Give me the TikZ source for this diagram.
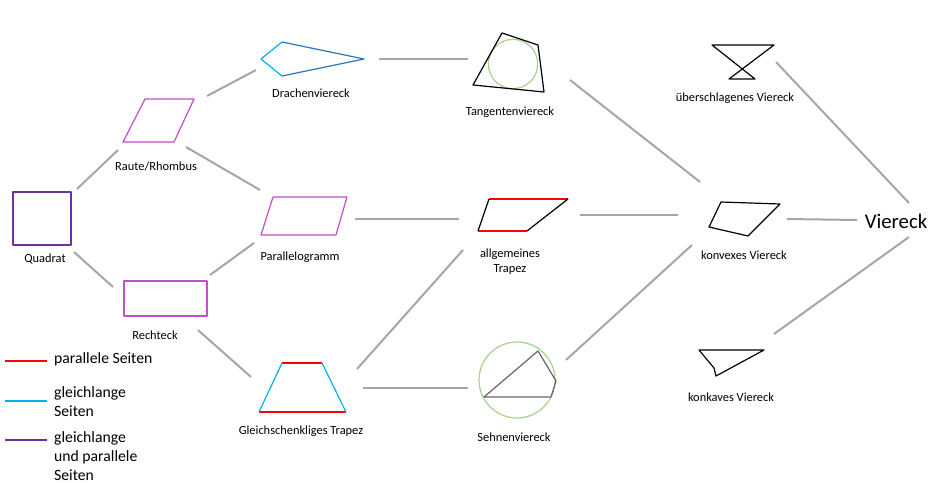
\documentclass[tikz,border=0pt]{standalone}
\usepackage{fontspec}
\setmainfont{Carlito}
\definecolor{conngray}{HTML}{A6A6A6}
\definecolor{lila}{HTML}{7030A0}
\definecolor{pinklila}{HTML}{C04FC8}
\definecolor{hellblau}{HTML}{00B0F0}
\definecolor{dunkelblau}{HTML}{2E75B6}
\definecolor{hellgruen}{HTML}{A9D18E}
\definecolor{rot}{HTML}{FF0000}
\begin{document}
\begin{tikzpicture}[x=1pt,y=-1pt,
  conn/.style={conngray,line width=2pt},
  fig/.style={line width=1.2pt,line join=round},
  lbl/.style={font=\fontsize{12.4}{15}\selectfont,inner sep=0pt,align=center},
  leg/.style={font=\fontsize{15.7}{19}\selectfont,inner sep=0pt,align=left,anchor=west}]
\useasboundingbox (0,0) rectangle (939,484);

% Quadrat, Raute, Rechteck
\draw [fig, lila] (13,192) rectangle (71,245);
\node [lbl] (quadrat) at (45,259) {Quadrat};
\draw [fig, pinklila] (145,99) -- (194,99) -- (174,142) -- (123,142) -- cycle;
\node [lbl] (raute) at (156,166) {Raute/Rhombus};
\draw [fig, pinklila] (124,281) rectangle (207,316);
\node [lbl] (rechteck) at (155,335) {Rechteck};

% Drachen, Parallelogramm, Gleichschenkliges Trapez
\draw [fig, hellblau] (282,76) -- (261,59) -- (282,42);
\draw [fig, dunkelblau] (282,42) -- (364,59) -- (282,76);
\node [lbl] (drachen) at (311,93) {Drachenviereck};
\draw [fig, pinklila] (273,197) -- (347,197) -- (336,235) -- (261,235) -- cycle;
\node [lbl] (parallelo) at (300,257) {Parallelogramm};
\draw [fig, rot] (282,363) -- (322,363) (259,412) -- (346,412);
\draw [fig, hellblau] (282,363) -- (259,412) (322,363) -- (346,412);
\node [lbl] (gltrapez) at (301,431) {Gleichschenkliges Trapez};

% Tangenten, allgemeines Trapez, Sehnen
\draw [fig, hellgruen] (513,64) circle (24.7);
\draw [fig, black] (502,33) -- (538,45) -- (544,92) -- (473,85) -- cycle;
\node [lbl] (tangenten) at (510,112) {Tangentenviereck};
\draw [fig, rot] (489,199) -- (568,199) (527,231) -- (478,231);
\draw [fig, black] (568,199) -- (527,231) (478,231) -- (489,199);
\node [lbl] (allgtrapez) at (510,262) {allgemeines\\Trapez};
\draw [fig, hellgruen] (517,380) circle (38);
\draw [fig, black!60] (484,397) -- (538,351) -- (556,381) -- (551,397) -- cycle;
\node [lbl] (sehnen) at (514,437) {Sehnenviereck};

% rechte Spalte
\draw [fig, black] (712,45) -- (774,45) -- (729,79) -- (755,79) -- cycle;
\node [lbl] (ueber) at (735,98) {überschlagenes Viereck};
\draw [fig, black] (721,202) -- (780,204) -- (748,236) -- (709,227) -- cycle;
\node [lbl] (konvex) at (744,255) {konvexes Viereck};
\draw [fig, black] (699,350) -- (764,350) -- (716,376) -- (714,368) -- cycle;
\node [lbl] (konkav) at (731,397) {konkaves Viereck};
\node [inner sep=0pt, font=\fontsize{20.8}{24}\selectfont] (viereck) at (896,221) {Viereck};

% Verbindungen
\coordinate (q-r1) at (77,189);   \coordinate (r-q1) at (118,150);
\coordinate (q-re1) at (74,252);  \coordinate (re-q1) at (113,287);
\coordinate (r-d1) at (207,96);   \coordinate (d-r1) at (256,70);
\coordinate (r-p1) at (186,147);  \coordinate (p-r1) at (260,190);
\coordinate (re-p1) at (210,275); \coordinate (p-re1) at (254,243);
\coordinate (re-g1) at (198,330); \coordinate (g-re1) at (251,377);
\coordinate (d-t1) at (379,59);   \coordinate (t-d1) at (468,59);
\coordinate (p-a1) at (355,219);  \coordinate (a-p1) at (459,219);
\coordinate (g-a1) at (357,369);  \coordinate (a-g1) at (463,250);
\coordinate (g-s1) at (363,388);  \coordinate (s-g1) at (468,388);
\coordinate (t-k1) at (570,80);   \coordinate (k-t1) at (700,182);
\coordinate (a-k1) at (580,215);  \coordinate (k-a1) at (678,215);
\coordinate (s-k1) at (566,360);  \coordinate (k-s1) at (692,245);
\coordinate (u-v1) at (776,62);   \coordinate (v-u1) at (909,203);
\coordinate (k-v1) at (787,219);  \coordinate (v-k1) at (857,220);
\coordinate (ka-v1) at (774,334); \coordinate (v-ka1) at (909,237);
\foreach \a/\b in {q-r1/r-q1, q-re1/re-q1, r-d1/d-r1, r-p1/p-r1, re-p1/p-re1,
  re-g1/g-re1, d-t1/t-d1, p-a1/a-p1, g-a1/a-g1, g-s1/s-g1, t-k1/k-t1,
  a-k1/k-a1, s-k1/k-s1, u-v1/v-u1, k-v1/v-k1, ka-v1/v-ka1}
  \draw [conn] (\a) -- (\b);

% Legende
\coordinate (l1a) at (5,361); \coordinate (l1b) at (47,361);
\coordinate (l2a) at (5,401); \coordinate (l2b) at (47,401);
\coordinate (l3a) at (5,440); \coordinate (l3b) at (47,440);
\draw [line width=1.8pt, rot] (l1a) -- (l1b);
\draw [line width=1.8pt, hellblau] (l2a) -- (l2b);
\draw [line width=1.8pt, lila] (l3a) -- (l3b);
\node [leg] (leg1) at (54,359) {parallele Seiten};
\node [leg] (leg2) at (54,401.5) {gleichlange\\Seiten};
\node [leg] (leg3) at (54,456) {gleichlange\\und parallele\\Seiten};
\end{tikzpicture}
\end{document}
